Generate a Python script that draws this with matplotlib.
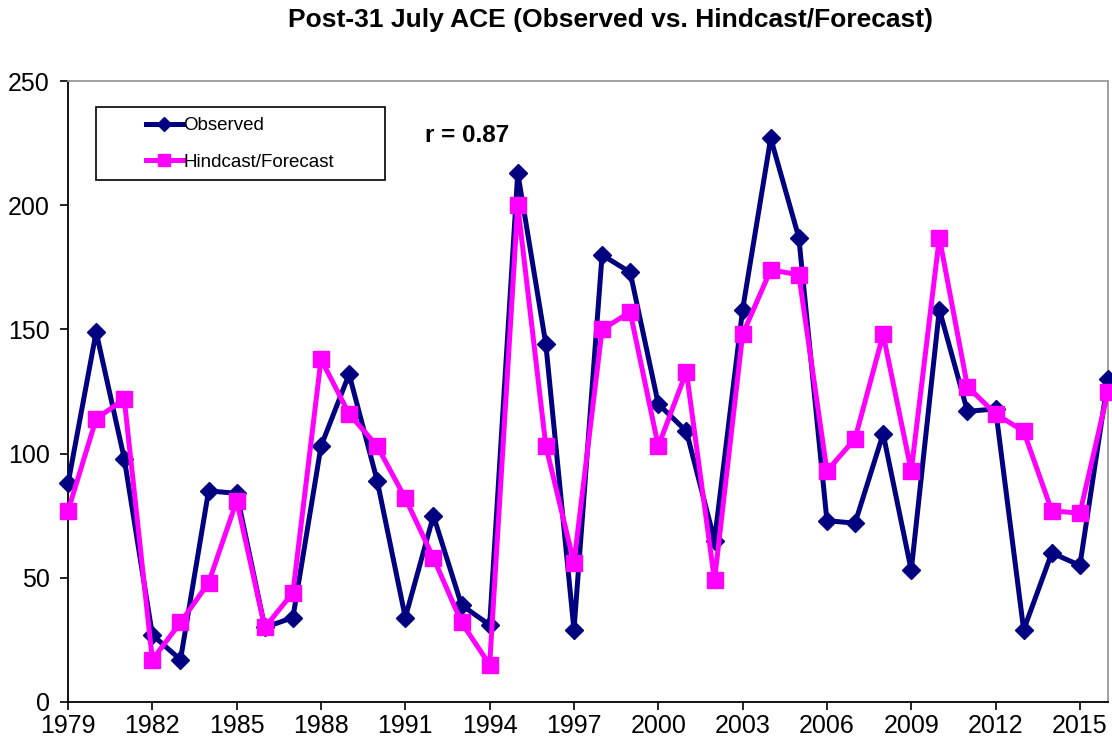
import numpy as np
import matplotlib
matplotlib.use("Agg")
import matplotlib.pyplot as plt
from matplotlib.patches import Rectangle

plt.rcParams['font.family'] = ['Liberation Sans', 'DejaVu Sans']

# years 1979-2016
years = np.arange(1979, 2017)

# observed ACE after 31 July
observed = [88, 149, 98, 27, 17, 85, 84, 30, 34, 103,
            132, 89, 34, 75, 39, 31, 213, 144, 29, 180,
            173, 120, 109, 65, 158, 227, 187, 73, 72, 108,
            53, 158, 117, 118, 29, 60, 55, 130]

# hindcast / forecast values
hindcast = [77, 114, 122, 17, 32, 48, 81, 30, 44, 138,
            116, 103, 82, 58, 32, 15, 200, 103, 56, 150,
            157, 103, 133, 49, 148, 174, 172, 93, 106, 148,
            93, 187, 127, 116, 109, 77, 76, 125]

xticks = np.arange(1979, 2016, 3)
yticks = [0, 50, 100, 150, 200, 250]

fig = plt.figure(figsize=(11.12, 7.44), dpi=100)
ax = fig.add_axes([0.0612, 0.0565, 0.9352, 0.8345])

ax.plot(years, observed, color='#000080', lw=3.6, marker='D', ms=9,
        label='Observed', clip_on=False, zorder=3)
ax.plot(years, hindcast, color='#FF00FF', lw=3.6, marker='s', ms=11,
        label='Hindcast/Forecast', clip_on=False, zorder=4)

ax.set_xlim(1979, 2016)
ax.set_ylim(0, 250)
ax.set_xticks(xticks)
ax.set_yticks(yticks)
ax.tick_params(axis='y', labelsize=18, length=6, width=1.2, pad=7)
ax.tick_params(axis='x', labelsize=18, length=6, width=1.2, pad=3)

for s in ['left', 'bottom']:
    ax.spines[s].set_color('black')
    ax.spines[s].set_linewidth(1.3)
for s in ['top', 'right']:
    ax.spines[s].set_color('#999999')
    ax.spines[s].set_linewidth(1.3)

# legend box drawn separately so it can be wider than the entries
box = Rectangle((0.027, 0.8406), 0.2779, 0.1174, transform=ax.transAxes,
                facecolor='white', edgecolor='black', lw=1.2, zorder=5)
ax.add_patch(box)
leg = ax.legend(loc='upper left', bbox_to_anchor=(0.075, 0.942), fontsize=13.5,
                frameon=False, borderpad=0, labelspacing=1.05, handlelength=1.95,
                handletextpad=0.05, borderaxespad=0, markerscale=0.8)
leg.set_zorder(6)

ax.text(1991.7, 228, 'r = 0.87', fontsize=17.5, fontweight='bold', va='center')

fig.text(0.5486, 0.973, 'Post-31 July ACE (Observed vs. Hindcast/Forecast)',
         fontsize=19, fontweight='bold', ha='center', va='center')

fig.savefig('out.png', dpi=100)
